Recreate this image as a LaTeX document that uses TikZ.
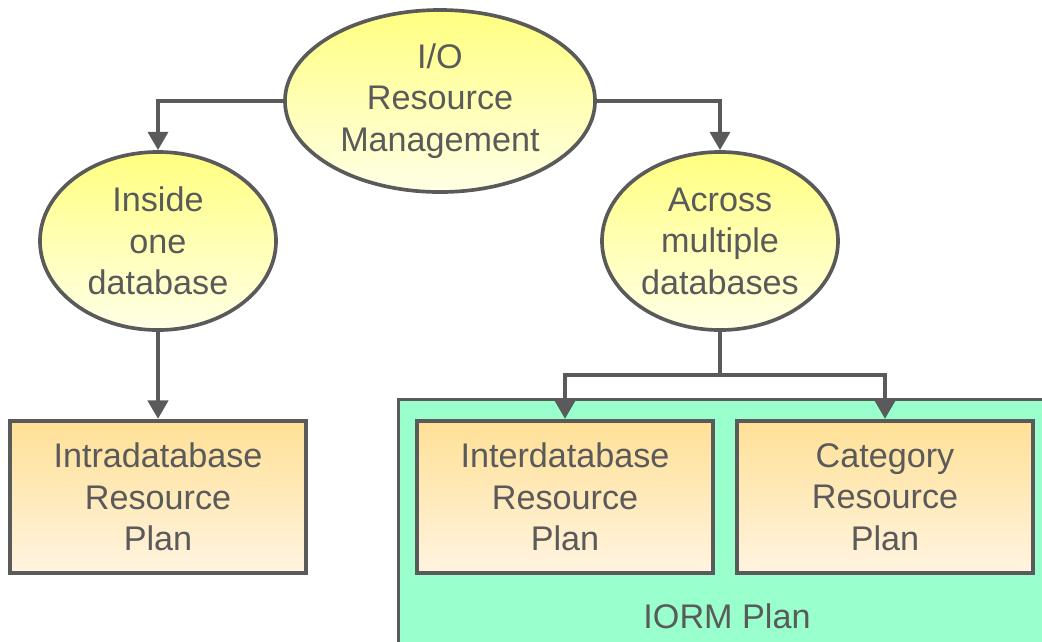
\documentclass[tikz,border=0pt]{standalone}
\usepackage{fontspec}
\setmainfont{Liberation Sans}
\usetikzlibrary{arrows.meta,positioning,shapes.geometric}
\definecolor{iormgray}{HTML}{5A5A5A}
\definecolor{iormgreen}{HTML}{99FFCC}
\definecolor{ovaltop}{HTML}{FFFF80}
\definecolor{ovalbot}{HTML}{FFFFE6}
\definecolor{plantop}{HTML}{FFE096}
\definecolor{planbot}{HTML}{FFF4E0}

\begin{document}
\begin{tikzpicture}[
  x=0.025cm,y=-0.025cm,
  oval/.style={ellipse,draw=iormgray,line width=2.6pt,top color=ovaltop,bottom color=ovalbot,align=center,inner sep=0pt,text=iormgray,font=\fontsize{24.3}{29.5}\selectfont},
  plan/.style={draw=iormgray,line width=3pt,top color=plantop,bottom color=planbot,align=center,minimum width=7.4cm,minimum height=3.8cm,inner sep=0pt,text=iormgray,font=\fontsize{24.3}{29.5}\selectfont},
  arr/.style={-{Triangle[length=4.6mm,width=5mm]},line width=2.8pt,draw=iormgray},
  link/.style={line width=2.8pt,draw=iormgray}
]
\useasboundingbox (0,0) rectangle (1042,641);
% IORM plan area
\node[draw=iormgray,line width=2.4pt,fill=iormgreen,anchor=north west,minimum width=16.5cm,minimum height=6.5cm,inner sep=0pt] (iorm) at (397,398) {};
\node[text=iormgray,font=\fontsize{24.3}{29.5}\selectfont] (iormlbl) at (727,616) {IORM Plan};
% ovals
\node[oval,minimum width=7.75cm,minimum height=4.55cm] (iorm-top) at (440,101) {I/O\\Resource\\Management};
\node[oval,minimum width=5.9cm,minimum height=4.45cm] (inside) at (158,241) {Inside\\one\\database};
\node[oval,minimum width=5.9cm,minimum height=4.45cm] (across) at (720,241) {Across\\multiple\\databases};
% plans
\node[plan] (intra) at (158,497) {Intradatabase\\Resource\\Plan};
\node[plan] (inter) at (565,497) {Interdatabase\\Resource\\Plan};
\node[plan] (categ) at (885,497) {Category\\Resource\\Plan};
\coordinate (split) at (720,375);
% connectors
\draw[arr] (iorm-top.west) -| (inside.north);
\draw[arr] (iorm-top.east) -| (across.north);
\draw[arr] (inside.south) -- (intra.north);
\draw[link] (across.south) -- (split);
\draw[arr] (split) -| (inter.north);
\draw[arr] (split) -| (categ.north);
\end{tikzpicture}
\end{document}
